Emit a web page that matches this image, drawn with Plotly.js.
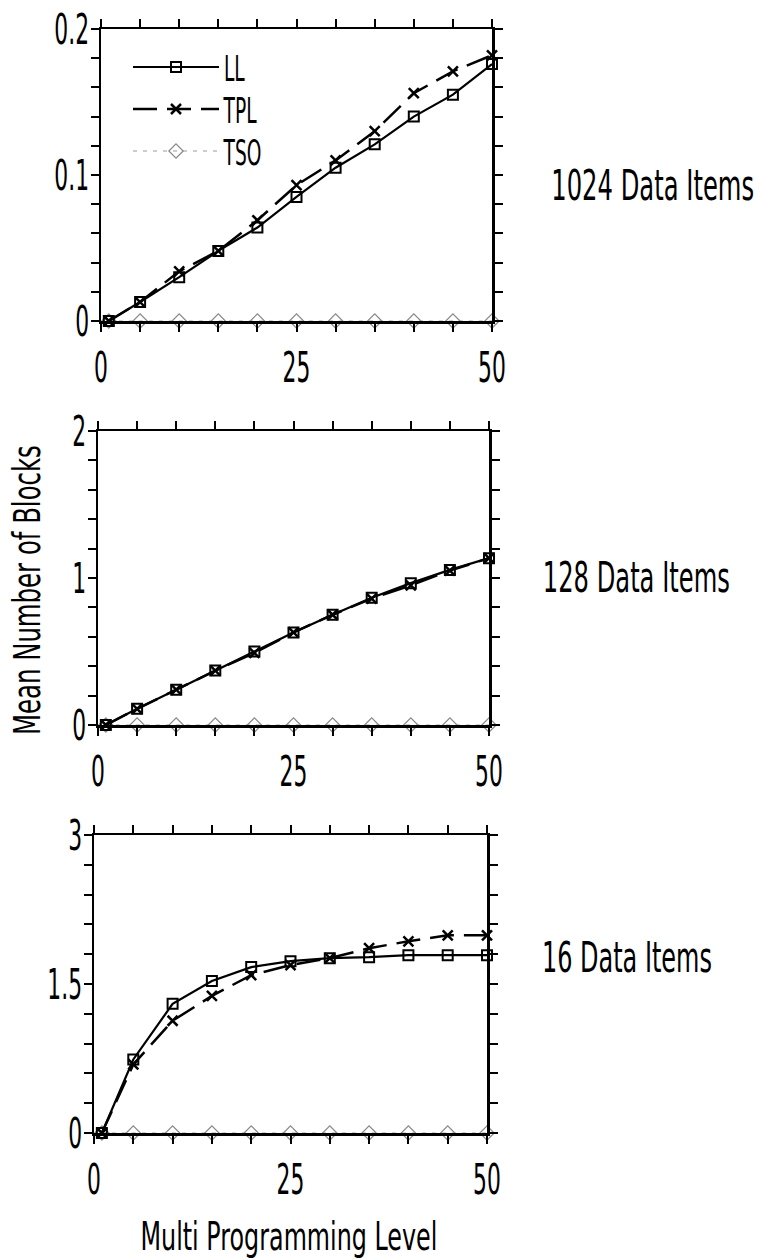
<!DOCTYPE html>
<html>
<head>
<meta charset="utf-8">
<script src="https://cdn.plot.ly/plotly-3.0.1.min.js"></script>
<style>html,body{margin:0;padding:0;background:#fff;}#chart{width:757px;height:1260px;}</style>
</head>
<body>
<div id="chart"></div>
<script>
// ---- data ----
const mpl = [1, 5, 10, 15, 20, 25, 30, 35, 40, 45, 50];

const ll1024  = [0, 0.013, 0.030, 0.048, 0.064, 0.085, 0.105, 0.121, 0.140, 0.155, 0.176];
const tpl1024 = [0, 0.013, 0.034, 0.048, 0.069, 0.093, 0.110, 0.130, 0.156, 0.171, 0.182];
const tso1024 = [0, 0, 0, 0, 0, 0, 0, 0, 0, 0, 0];

const ll128  = [0, 0.11, 0.24, 0.37, 0.50, 0.63, 0.75, 0.865, 0.965, 1.055, 1.135];
const tpl128 = [0, 0.11, 0.24, 0.37, 0.49, 0.63, 0.75, 0.86, 0.95, 1.05, 1.135];
const tso128 = [0, 0, 0, 0, 0, 0, 0, 0, 0, 0, 0];

const ll16  = [0, 0.74, 1.30, 1.53, 1.67, 1.73, 1.76, 1.77, 1.79, 1.79, 1.79];
const tpl16 = [0, 0.69, 1.13, 1.38, 1.59, 1.69, 1.76, 1.86, 1.93, 1.99, 1.99];
const tso16 = [0, 0, 0, 0, 0, 0, 0, 0, 0, 0, 0];

const seriesNames = ["LL", "TPL", "TSO"];
const panelLabels = ["1024 Data Items", "128 Data Items", "16 Data Items"];

const xTickVals = [0, 5, 10, 15, 20, 25, 30, 35, 40, 45, 50];
const xTickText = ["0", "", "", "", "", "25", "", "", "", "", "50"];

const yTickVals1 = [0, 0.02, 0.04, 0.06, 0.08, 0.1, 0.12, 0.14, 0.16, 0.18, 0.2];
const yTickText1 = ["0", "", "", "", "", "0.1", "", "", "", "", "0.2"];
const yTickVals2 = [0, 0.2, 0.4, 0.6, 0.8, 1, 1.2, 1.4, 1.6, 1.8, 2];
const yTickText2 = ["0", "", "", "", "", "1", "", "", "", "", "2"];
const yTickVals3 = [0, 0.3, 0.6, 0.9, 1.2, 1.5, 1.8, 2.1, 2.4, 2.7, 3];
const yTickText3 = ["0", "", "", "", "", "1.5", "", "", "", "", "3"];

const xTitle = "Multi Programming Level";
const yTitle = "Mean Number of Blocks";

// ---- styling ----
const FONT = "'DejaVu Sans', 'Liberation Sans', sans-serif";
const styles = {
  LL:  {line: {color: "#000", width: 2.2, dash: "solid"},
        marker: {symbol: "square-open", size: 10, color: "#000", line: {width: 2, color: "#000"}}},
  TPL: {line: {color: "#000", width: 2.5, dash: "24px,10px"},
        marker: {symbol: "x-thin-open", size: 10, color: "#000", line: {width: 2.5, color: "#000"}}},
  TSO: {line: {color: "#999", width: 1.2, dash: "4px,6px"},
        marker: {symbol: "diamond-open", size: 11, color: "#888", line: {width: 1.2, color: "#888"}}}
};

const panels = [
  {x: "x",  y: "y",  vals: [ll1024, tpl1024, tso1024], legend: true},
  {x: "x2", y: "y2", vals: [ll128,  tpl128,  tso128],  legend: false},
  {x: "x3", y: "y3", vals: [ll16,   tpl16,   tso16],   legend: false}
];

const traces = [];
panels.forEach(p => {
  [2, 0, 1].forEach(i => {
    const nm = seriesNames[i];
    traces.push({
      type: "scatter", mode: "lines+markers",
      x: mpl, y: p.vals[i], name: nm,
      xaxis: p.x, yaxis: p.y,
      showlegend: p.legend, legendrank: i + 1,
      cliponaxis: false,
      line: styles[nm].line, marker: styles[nm].marker
    });
  });
});

const TICKSIZE = 42;
function xAxis(domain, anchor) {
  return {
    domain: domain, anchor: anchor, range: [0, 50],
    tickmode: "array", tickvals: xTickVals, ticktext: xTickText,
    ticks: "outside", ticklen: 8, tickwidth: 2, tickcolor: "#000",
    showline: true, linewidth: 2.5, linecolor: "#000", mirror: "allticks",
    showgrid: false, zeroline: false, automargin: false,
    ticklabelstandoff: 0,
    tickfont: {family: FONT, size: TICKSIZE, color: "#000"}
  };
}
function yAxis(domain, anchor, range, vals, text) {
  return {
    domain: domain, anchor: anchor, range: range,
    tickmode: "array", tickvals: vals, ticktext: text,
    ticks: "outside", ticklen: 8, tickwidth: 2, tickcolor: "#000",
    showline: true, linewidth: 2.5, linecolor: "#000", mirror: "allticks",
    showgrid: false, zeroline: false, automargin: false,
    ticklabelstandoff: -7,
    tickfont: {family: FONT, size: TICKSIZE, color: "#000"}
  };
}

const W = 757, H = 1260;
const layout = {
  width: W, height: H,
  margin: {l: 0, r: 0, t: 0, b: 0, pad: 0},
  paper_bgcolor: "#fff", plot_bgcolor: "#fff",
  font: {family: FONT, color: "#000"},
  xaxis:  xAxis([101 / W, 492 / W], "y"),
  yaxis:  yAxis([1 - 321 / H, 1 - 29 / H], "x", [0, 0.2], yTickVals1, yTickText1),
  xaxis2: xAxis([98 / W, 489 / W], "y2"),
  yaxis2: yAxis([1 - 725 / H, 1 - 431 / H], "x2", [0, 2], yTickVals2, yTickText2),
  xaxis3: xAxis([94 / W, 487 / W], "y3"),
  yaxis3: yAxis([1 - 1133 / H, 1 - 835 / H], "x3", [0, 3], yTickVals3, yTickText3),
  showlegend: true,
  legend: {
    x: 128 / W, y: 1 - 41 / H, xanchor: "left", yanchor: "top",
    bgcolor: "rgba(0,0,0,0)", borderwidth: 0,
    font: {family: FONT, size: 30, color: "#000"},
    itemwidth: 86, tracegroupgap: 0, traceorder: "normal",
    itemclick: false
  },
  annotations: [
    {text: panelLabels[0], xref: "paper", yref: "paper", x: 652 / W, y: 1 - 185 / H,
     xanchor: "center", yanchor: "middle", showarrow: false, font: {family: FONT, size: 42, color: "#000"}},
    {text: panelLabels[1], xref: "paper", yref: "paper", x: 636 / W, y: 1 - 578 / H,
     xanchor: "center", yanchor: "middle", showarrow: false, font: {family: FONT, size: 42, color: "#000"}},
    {text: panelLabels[2], xref: "paper", yref: "paper", x: 627 / W, y: 1 - 957 / H,
     xanchor: "center", yanchor: "middle", showarrow: false, font: {family: FONT, size: 42, color: "#000"}},
    {text: xTitle, xref: "paper", yref: "paper", x: 289 / W, y: 1 - 1236 / H,
     xanchor: "center", yanchor: "middle", showarrow: false, font: {family: FONT, size: 39, color: "#000"}},
    {text: yTitle, xref: "paper", yref: "paper", x: 27 / W, y: 1 - 590 / H, textangle: -90,
     xanchor: "center", yanchor: "middle", showarrow: false, font: {family: FONT, size: 37, color: "#000"}}
  ]
};

// squeeze the (wide) installed font horizontally into the tall, narrow lettering of the original
function condense(gd) {
  const targets = {};
  targets[panelLabels[0]] = 203; targets[panelLabels[1]] = 187; targets[panelLabels[2]] = 170;
  targets[xTitle] = 297; targets[yTitle] = 290;
  gd.querySelectorAll("svg text").forEach(t => {
    const txt = t.textContent;
    if (!txt || !txt.trim()) return;
    const bb = t.getBBox();
    if (!bb.width) return;
    let f, fy = 1;
    const inLegend = !!t.closest(".legend");
    if (targets[txt] !== undefined) f = targets[txt] / bb.width;
    else if (inLegend) { f = 0.62; fy = 1.18; }
    else f = 0.52;
    const anchor = t.getAttribute("text-anchor") || getComputedStyle(t).textAnchor || "start";
    const ax = anchor === "middle" ? bb.x + bb.width / 2 : anchor === "end" ? bb.x + bb.width : bb.x;
    const ay = bb.y + bb.height / 2;
    const prev = t.getAttribute("transform") || "";
    t.setAttribute("transform",
      (prev + " translate(" + ax.toFixed(2) + "," + ay.toFixed(2) + ") scale(" + f.toFixed(4) + "," + fy +
       ") translate(" + (-ax).toFixed(2) + "," + (-ay).toFixed(2) + ")").trim());
  });
}

Plotly.newPlot("chart", traces, layout, {displayModeBar: false, staticPlot: true}).then(condense);
</script>
</body>
</html>
